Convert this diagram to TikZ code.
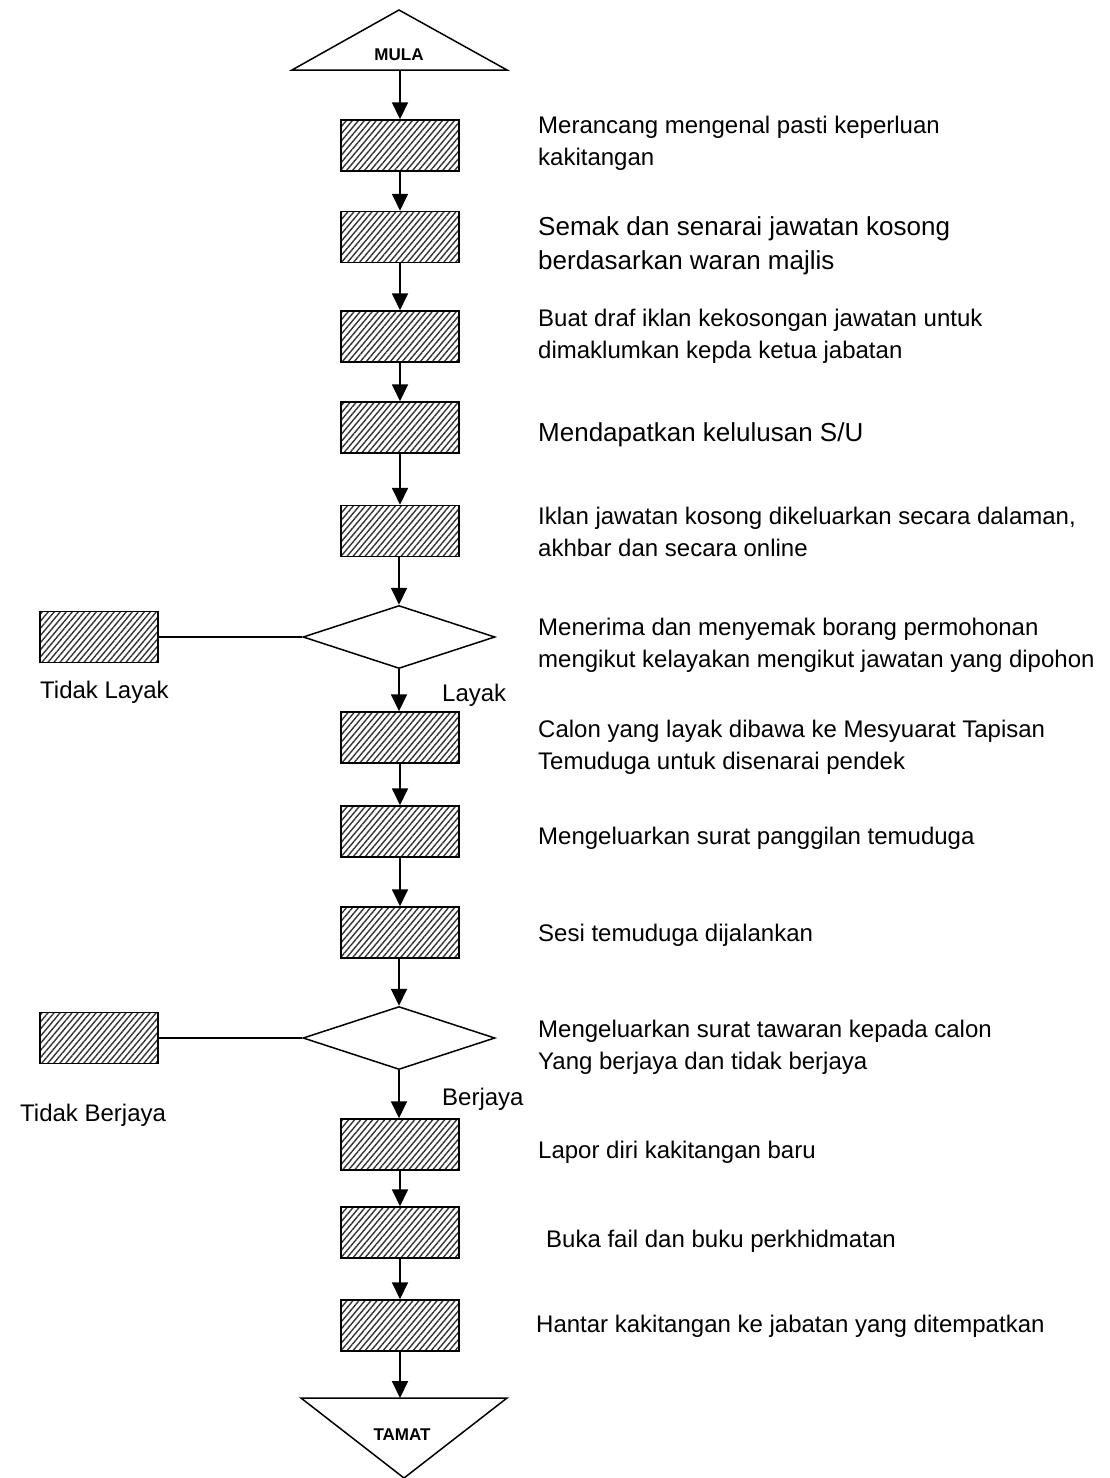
\documentclass[tikz,border=0pt]{standalone}
\usepackage{fontspec}
\setmainfont{Liberation Sans}
\usetikzlibrary{arrows.meta,shapes.geometric,patterns.meta}
\begin{document}
\begin{tikzpicture}[x=1pt,y=-1pt,
  hbox/.style={draw=black, line width=1.5pt, minimum width=118pt, minimum height=51pt, inner sep=0pt,
    pattern={Lines[angle=50,distance=4.6pt,line width=1.4pt]}, pattern color=black!80},
  dia/.style={draw=black, shape=diamond, minimum width=192pt, minimum height=63pt, inner sep=0pt, line width=1.5pt},
  arr/.style={line width=1.8pt, -{Triangle[length=17pt,width=16pt]}},
  link/.style={line width=1.5pt},
  term/.style={line width=1.5pt, line join=miter},
  termtxt/.style={anchor=base, inner sep=0pt, font=\bfseries\fontsize{17}{17}\selectfont},
  txt/.style={anchor=base west, inner sep=0pt, align=left, font=\fontsize{24}{32}\selectfont},
  bigtxt/.style={anchor=base west, inner sep=0pt, align=left, font=\fontsize{26}{34}\selectfont}
]
\useasboundingbox (0,0) rectangle (1109,1478);

% start terminal
\draw[term] (292,70) -- (399,10) -- (507,70) -- cycle;
\node[termtxt] (mula) at (399,60) {MULA};
\coordinate (mulabase) at (400,70);

% process boxes
\node[hbox] (b1) at (400,145.5) {};
\node[hbox] (b2) at (400,237) {};
\node[hbox] (b3) at (400,336.5) {};
\node[hbox] (b4) at (400,427.5) {};
\node[hbox] (b5) at (400,531) {};
\node[dia]  (d1) at (399,637) {};
\node[hbox] (l1) at (99,637) {};
\node[hbox] (b6) at (400,737.5) {};
\node[hbox] (b7) at (400,831.5) {};
\node[hbox] (b8) at (400,932.5) {};
\node[dia]  (d2) at (399,1038) {};
\node[hbox] (l2) at (99,1038) {};
\node[hbox] (b9) at (400,1144.5) {};
\node[hbox] (b10) at (400,1232.5) {};
\node[hbox] (b11) at (400,1325.5) {};

% end terminal
\draw[term] (301,1398) -- (507,1398) -- (404,1478) -- cycle;
\node[termtxt] (tamat) at (402,1440) {TAMAT};
\coordinate (tamattop) at (400,1398);

% connectors
\draw[arr] (mulabase) -- (b1.north);
\draw[arr] (b1) -- (b2);
\draw[arr] (b2) -- (b3);
\draw[arr] (b3) -- (b4);
\draw[arr] (b4) -- (b5);
\draw[arr] (d1.north |- b5.south) -- (d1.north);
\draw[arr] (d1.south) -- (d1.south |- b6.north);
\draw[arr] (b6) -- (b7);
\draw[arr] (b7) -- (b8);
\draw[arr] (d2.north |- b8.south) -- (d2.north);
\draw[arr] (d2.south) -- (d2.south |- b9.north);
\draw[arr] (b9) -- (b10);
\draw[arr] (b10) -- (b11);
\draw[arr] (b11.south) -- (tamattop);
\draw[link] (l1.east) -- (d1.west);
\draw[link] (l2.east) -- (d2.west);

% labels (base = baseline of last line)
\node[txt] (t1) at (538,165) {Merancang mengenal pasti keperluan\\kakitangan};
\node[bigtxt] (t2) at (538,269) {Semak dan senarai jawatan kosong\\berdasarkan waran majlis};
\node[txt] (t3) at (538,358) {Buat draf iklan kekosongan jawatan untuk\\dimaklumkan kepda ketua jabatan};
\node[bigtxt] (t4) at (538,441) {Mendapatkan kelulusan S/U};
\node[txt] (t5) at (538,556) {Iklan jawatan kosong dikeluarkan secara dalaman,\\akhbar dan secara online};
\node[txt] (t6) at (538,667) {Menerima dan menyemak borang permohonan\\mengikut kelayakan mengikut jawatan yang dipohon};
\node[txt] (t7) at (538,769) {Calon yang layak dibawa ke Mesyuarat Tapisan\\Temuduga untuk disenarai pendek};
\node[txt] (t8) at (538,844) {Mengeluarkan surat panggilan temuduga};
\node[txt] (t9) at (538,941) {Sesi temuduga dijalankan};
\node[txt] (t10) at (538,1069) {Mengeluarkan surat tawaran kepada calon\\Yang berjaya dan tidak berjaya};
\node[txt] (t11) at (538,1158) {Lapor diri kakitangan baru};
\node[txt] (t12) at (546,1247) {Buka fail dan buku perkhidmatan};
\node[txt] (t13) at (536,1332) {Hantar kakitangan ke jabatan yang ditempatkan};

\node[txt] (tl) at (40,698) {Tidak Layak};
\node[txt] (ly) at (442,701) {Layak};
\node[txt] (tb) at (20,1121) {Tidak Berjaya};
\node[txt] (bj) at (442,1105) {Berjaya};
\end{tikzpicture}
\end{document}
